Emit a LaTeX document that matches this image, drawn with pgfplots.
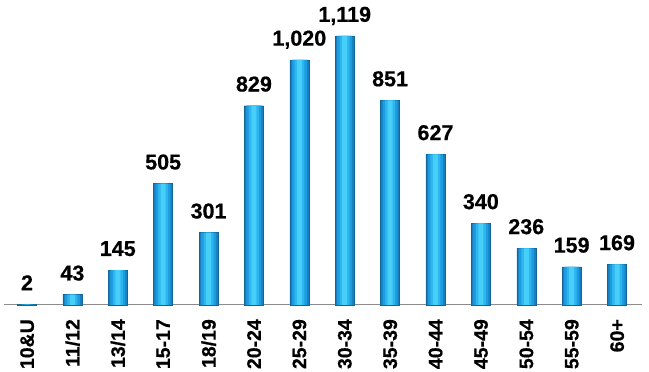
\documentclass[border=0pt]{standalone}
\usepackage{fontspec}
\setmainfont{Liberation Sans}[BoldFeatures={FakeBold=0.6}]
\usepackage{pgfplots}
\usepackage{pgfplotstable}
\pgfplotsset{compat=1.18}
\definecolor{barlight}{HTML}{48CFF8}
\definecolor{barmid}{HTML}{2DB5F0}
\definecolor{barinner}{HTML}{1E9BDF}
\definecolor{baredge}{HTML}{1680C0}
\definecolor{axisgray}{HTML}{8C8C8C}
\pgfplotstableread{
x y
0 2
1 43
2 145
3 505
4 301
5 829
6 1020
7 1119
8 851
9 627
10 340
11 236
12 159
13 169
}\agedata
\begin{document}
\begin{tikzpicture}
\begin{axis}[
  scale only axis,
  width=638pt, height=269pt,
  xmin=-0.507, xmax=13.55,
  ymin=0, ymax=1119,
  axis x line*=bottom,
  axis y line=none,
  axis line style={axisgray, line width=1pt, -},
  xtick=data,
  xticklabels={10\&U,11/12,13/14,15-17,18/19,20-24,25-29,30-34,35-39,40-44,45-49,50-54,55-59,60+},
  major tick length=0pt,
  xticklabel style={yshift=-14pt, rotate=90, anchor=east, inner sep=0pt, text depth=0pt,
     font=\fontsize{19.5}{19.5}\selectfont\bfseries},
  ytick=\empty,
  clip=false,
  /pgf/number format/assume math mode=true,
  /pgf/number format/1000 sep={,},
]
\addplot[ybar, bar shift=0pt, bar width=19pt, draw=baredge!80!black, line width=0.4pt, fill=baredge]
  table[x=x,y=y] {\agedata};
\addplot[ybar, bar shift=0pt, bar width=15pt, draw=none, fill=barinner]
  table[x=x,y=y] {\agedata};
\addplot[ybar, bar shift=0pt, bar width=10pt, draw=none, fill=barmid]
  table[x=x,y=y] {\agedata};
\addplot[ybar, bar shift=0pt, bar width=5pt, draw=none, fill=barlight,
  nodes near coords,
  every node near coord/.append style={font=\fontsize{21.5}{21.5}\selectfont\bfseries,
     anchor=south, inner sep=0pt, text depth=0pt, yshift=14pt, black}]
  table[x=x,y=y] {\agedata};
\end{axis}
\pgfresetboundingbox
\path ([xshift=-4pt,yshift=-67pt]current axis.south west) rectangle ([xshift=7pt,yshift=36pt]current axis.north east);
\end{tikzpicture}
\end{document}
